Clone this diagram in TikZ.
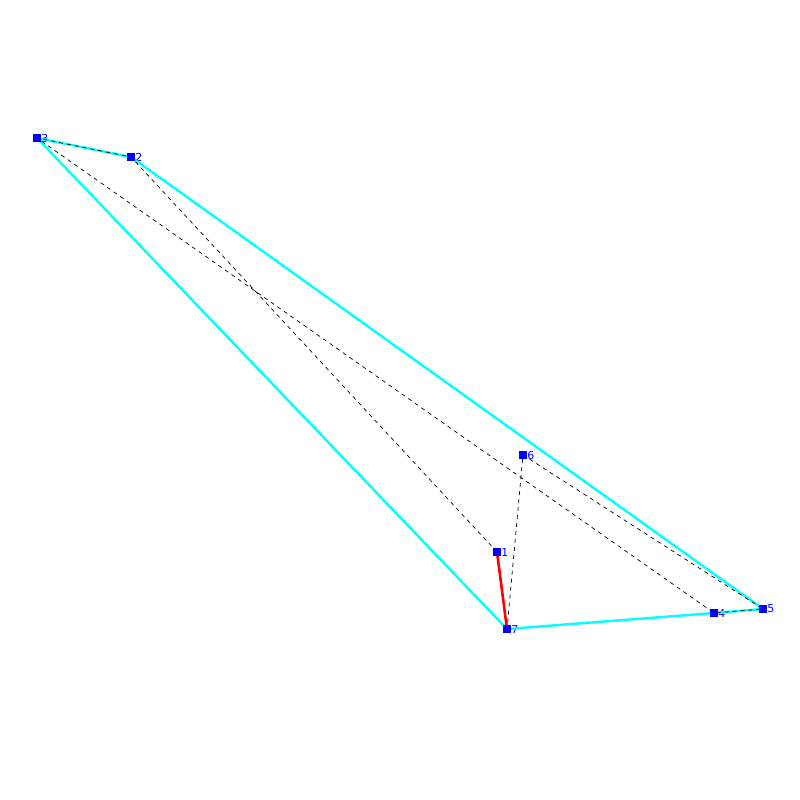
\documentclass[tikz,border=0pt]{standalone}
\usepackage{fontspec}
\setsansfont{DejaVu Sans}
\usepackage{tikz}
\definecolor{Hull}{HTML}{00FFFF}
\definecolor{Pt}{HTML}{0000FF}
\definecolor{Edge}{HTML}{FF0000}
\tikzset{pt/.style={rectangle,fill=Pt,minimum size=7pt,inner sep=0pt,label={[font=\sffamily\fontsize{11}{12}\selectfont,text=Pt,inner sep=0.5pt]right:#1}},hull/.style={draw=Hull,line width=2.4pt,line join=round},tour/.style={draw=black,line width=0.7pt,dash pattern=on 4pt off 4pt},cut/.style={draw=Edge,line width=2.6pt}}

\begin{document}
\begin{tikzpicture}[x=1pt,y=-1pt]
      \useasboundingbox (0,0) rectangle (800,800);
      \node[pt=1](p1) at (497,552){};
      \node[pt=2](p2) at (131,157){};
      \node[pt=3](p3) at (37,138){};
      \node[pt=4](p4) at (714,613){};
      \node[pt=5](p5) at (763,609){};
      \node[pt=6](p6) at (523,455){};
      \node[pt=7](p7) at (507,629){};
      \begin{scope}[on background layer/.try]
      \draw[hull](p3.center)--(p2.center)--(p5.center)--(p4.center)--(p7.center)--cycle;
      \draw[tour](p1.center)--(p2.center)--(p3.center)--(p4.center)--(p5.center)--(p6.center)--(p7.center);
      \draw[cut](p7.center)--(p1.center);
      \end{scope}
      \foreach \i in {1,...,7}{\fill[Pt](p\i.south west) rectangle (p\i.north east);}
    \end{tikzpicture}
\end{document}
